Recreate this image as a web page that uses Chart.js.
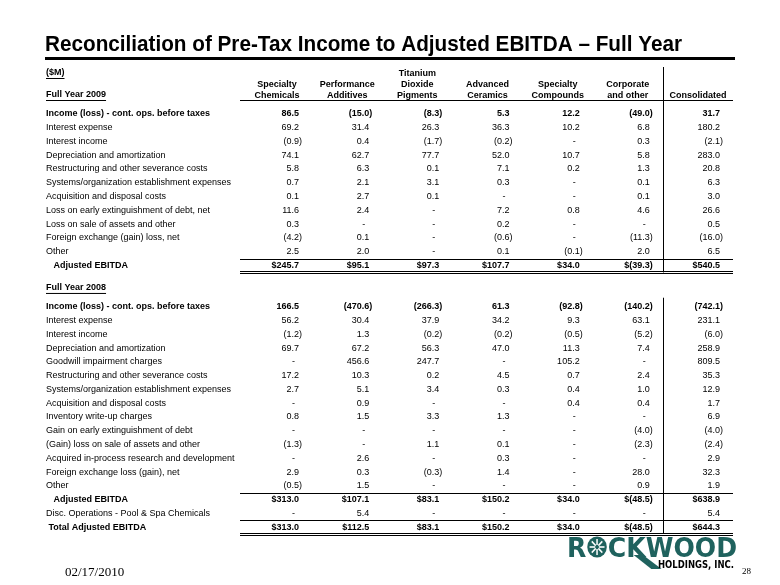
<!DOCTYPE html>
<html>
<head>
<meta charset="utf-8">
<script src="https://cdn.jsdelivr.net/npm/chart.js@4.4.1/dist/chart.umd.min.js"></script>
<style>
  html, body { margin: 0; padding: 0; background: #fff; }
</style>
</head>
<body>
<canvas id="reconChart" width="780" height="585"></canvas>
<script>
// Reconciliation table, full year 2009 / 2008 ($M)

const columns = [
  ['Specialty', 'Chemicals'],
  ['Performance', 'Additives'],
  ['Titanium', 'Dioxide', 'Pigments'],
  ['Advanced', 'Ceramics'],
  ['Specialty', 'Compounds'],
  ['Corporate', 'and other'],
  'Consolidated'
];

const rows2009 = [
  'Income (loss) - cont. ops. before taxes',
  'Interest expense',
  'Interest income',
  'Depreciation and amortization',
  'Restructuring and other severance costs',
  'Systems/organization establishment expenses',
  'Acquisition and disposal costs',
  'Loss on early extinguishment of debt, net',
  'Loss on sale of assets and other',
  'Foreign exchange (gain) loss, net',
  'Other',
  'Adjusted EBITDA'
];

const rows2008 = [
  'Income (loss) - cont. ops. before taxes',
  'Interest expense',
  'Interest income',
  'Depreciation and amortization',
  'Goodwill impairment charges',
  'Restructuring and other severance costs',
  'Systems/organization establishment expenses',
  'Acquisition and disposal costs',
  'Inventory write-up charges',
  'Gain on early extinguishment of debt',
  '(Gain) loss on sale of assets and other',
  'Acquired in-process research and development',
  'Foreign exchange loss (gain), net',
  'Other',
  'Adjusted EBITDA',
  'Disc. Operations - Pool & Spa Chemicals',
  'Total Adjusted EBITDA'
];

// null = "-"
const specChem09 = [86.5, 69.2, -0.9, 74.1, 5.8, 0.7, 0.1, 11.6, 0.3, -4.2, 2.5, 245.7];
const perfAdd09  = [-15.0, 31.4, 0.4, 62.7, 6.3, 2.1, 2.7, 2.4, null, 0.1, 2.0, 95.1];
const tio2_09    = [-8.3, 26.3, -1.7, 77.7, 0.1, 3.1, 0.1, null, null, null, null, 97.3];
const advCer09   = [5.3, 36.3, -0.2, 52.0, 7.1, 0.3, null, 7.2, 0.2, -0.6, 0.1, 107.7];
const specComp09 = [12.2, 10.2, null, 10.7, 0.2, null, null, 0.8, null, null, -0.1, 34.0];
const corp09     = [-49.0, 6.8, 0.3, 5.8, 1.3, 0.1, 0.1, 4.6, null, -11.3, 2.0, -39.3];
const consol09   = [31.7, 180.2, -2.1, 283.0, 20.8, 6.3, 3.0, 26.6, 0.5, -16.0, 6.5, 540.5];

const specChem08 = [166.5, 56.2, -1.2, 69.7, null, 17.2, 2.7, null, 0.8, null, -1.3, null, 2.9, -0.5, 313.0, null, 313.0];
const perfAdd08  = [-470.6, 30.4, 1.3, 67.2, 456.6, 10.3, 5.1, 0.9, 1.5, null, null, 2.6, 0.3, 1.5, 107.1, 5.4, 112.5];
const tio2_08    = [-266.3, 37.9, -0.2, 56.3, 247.7, 0.2, 3.4, null, 3.3, null, 1.1, null, -0.3, null, 83.1, null, 83.1];
const advCer08   = [61.3, 34.2, -0.2, 47.0, null, 4.5, 0.3, null, 1.3, null, 0.1, 0.3, 1.4, null, 150.2, null, 150.2];
const specComp08 = [-92.8, 9.3, -0.5, 11.3, 105.2, 0.7, 0.4, 0.4, null, null, null, null, null, null, 34.0, null, 34.0];
const corp08     = [-140.2, 63.1, -5.2, 7.4, null, 2.4, 1.0, 0.4, null, -4.0, -2.3, null, 28.0, 0.9, -48.5, null, -48.5];
const consol08   = [-742.1, 231.1, -6.0, 258.9, 809.5, 35.3, 12.9, 1.7, 6.9, -4.0, -2.4, 2.9, 32.3, 1.9, 638.9, 5.4, 644.3];

const cols09 = [specChem09, perfAdd09, tio2_09, advCer09, specComp09, corp09, consol09];
const cols08 = [specChem08, perfAdd08, tio2_08, advCer08, specComp08, corp08, consol08];

const FONT = '"Liberation Sans", Arial, sans-serif';
const start08 = rows2009.length + 2;
const allRows = [...rows2009, '', 'Full Year 2008', ...rows2008];

const isTotal = name => name.endsWith('Adjusted EBITDA');
const isBold = name => name.startsWith('Income') || isTotal(name);

function fmt(v, dollar) {
  const s = Math.abs(v).toFixed(1);
  return (dollar ? '$' : '') + (v < 0 ? '(' + s + ')' : s);
}

function underlined(ctx, text, x, y) {
  ctx.textAlign = 'left';
  ctx.textBaseline = 'middle';
  ctx.fillText(text, x, y);
  ctx.fillRect(x, y + 5, ctx.measureText(text).width, 1);
}

function drawLogo(ctx) {
  const teal = '#1f625e';
  const left = 567, base = 557, target = 170;
  ctx.save();
  ctx.fillStyle = teal;
  ctx.font = 'bold 27px "DejaVu Sans", sans-serif';
  ctx.textBaseline = 'alphabetic';
  ctx.textAlign = 'left';
  const wR = ctx.measureText('R').width;
  const wO = ctx.measureText('O').width;
  const wRest = ctx.measureText('CKWOOD').width;
  const sx = target / (wR + wO + wRest);
  ctx.translate(left, base);
  ctx.scale(sx, 1);
  ctx.fillText('R', 0, 0);
  // starburst O
  const cx = wR + wO / 2, cy = -10, r = 10.5;
  ctx.beginPath();
  ctx.arc(cx, cy, r, 0, Math.PI * 2);
  ctx.fill();
  ctx.strokeStyle = '#fff';
  ctx.lineWidth = 1.6;
  for (let i = 0; i < 8; i++) {
    const a = i * Math.PI / 4;
    ctx.beginPath();
    ctx.moveTo(cx + Math.cos(a) * 2, cy + Math.sin(a) * 2);
    ctx.lineTo(cx + Math.cos(a) * 8, cy + Math.sin(a) * 8);
    ctx.stroke();
  }
  const xC = wR + wO;
  ctx.fillText('CKWOOD', xC, 0);
  // K leg running down under the name
  const xK = xC + ctx.measureText('C').width;
  ctx.beginPath();
  ctx.moveTo(xK + 8, -2);
  ctx.lineTo(xK + 18, -2);
  ctx.lineTo(xK + 38, 12);
  ctx.lineTo(xK + 27, 12);
  ctx.closePath();
  ctx.fill();
  ctx.restore();

  ctx.save();
  ctx.fillStyle = '#000';
  ctx.font = 'bold 10px "DejaVu Sans", sans-serif';
  const h = 'HOLDINGS, INC.';
  const hw = ctx.measureText(h).width;
  ctx.translate(658, 568);
  ctx.scale(76 / hw, 1);
  ctx.textBaseline = 'alphabetic';
  ctx.fillText(h, 0, 0);
  ctx.restore();
}

const tablePlugin = {
  id: 'tableCells',
  afterDraw(chart) {
    const { ctx, chartArea: area, scales: { x, y } } = chart;
    ctx.save();
    ctx.fillStyle = '#000';

    // title and rule
    const title = 'Reconciliation of Pre-Tax Income to Adjusted EBITDA \u2013 Full Year';
    ctx.font = 'bold 22px ' + FONT;
    const tw = ctx.measureText(title).width;
    ctx.save();
    ctx.translate(45, 51);
    ctx.scale(637 / tw, 1);
    ctx.textBaseline = 'alphabetic';
    ctx.textAlign = 'left';
    ctx.fillText(title, 0, 0);
    ctx.restore();
    ctx.fillRect(45, 57, 690, 3);

    // corner labels
    ctx.font = 'bold 9px ' + FONT;
    underlined(ctx, '($M)', 46, 73);
    underlined(ctx, 'Full Year 2009', 46, 95);
    underlined(ctx, 'Full Year 2008', 46, y.getPixelForValue(start08 - 1) - 5);

    // header underline
    ctx.fillRect(area.left - 2, 100, area.right - area.left + 2, 1);

    // cells
    ctx.textBaseline = 'middle';
    const block = (cols, names, first) => {
      cols.forEach((col, c) => {
        const right = x.getPixelForValue(c) + 25;
        col.forEach((v, r) => {
          const name = names[r];
          ctx.font = (isBold(name) ? 'bold ' : '') + '9px ' + FONT;
          const parenW = ctx.measureText(')').width;
          const yy = y.getPixelForValue(first + r);
          ctx.textAlign = 'right';
          if (v === null) {
            ctx.fillText('-', right - 7, yy);
          } else {
            ctx.fillText(fmt(v, isTotal(name)), v < 0 ? right : right - parenW, yy);
          }
        });
      });
    };
    block(cols09, rows2009, 0);
    block(cols08, rows2008, start08);

    // rules
    const hline = (yy) => ctx.fillRect(area.left - 2, Math.round(yy), area.right - area.left + 2, 1);
    const mid = (a, b) => (y.getPixelForValue(a) + y.getPixelForValue(b)) / 2;
    const last09 = rows2009.length - 1;
    hline(mid(last09 - 1, last09));
    hline(y.getPixelForValue(last09) + 6);
    hline(y.getPixelForValue(last09) + 8);
    const adj08 = start08 + rows2008.length - 3;
    hline(mid(adj08 - 1, adj08));
    hline(mid(adj08 + 1, adj08 + 2));
    hline(y.getPixelForValue(adj08 + 2) + 6);
    hline(y.getPixelForValue(adj08 + 2) + 8);

    // vertical divider before Consolidated
    const vx = Math.round((x.getPixelForValue(5) + x.getPixelForValue(6)) / 2);
    ctx.fillRect(vx, 67, 1, y.getPixelForValue(last09) + 7 - 67);
    const top08 = y.getPixelForValue(start08) - 9;
    ctx.fillRect(vx, top08, 1, y.getPixelForValue(adj08 + 2) + 6 - top08);

    // footer
    ctx.font = '13px "Liberation Serif", serif';
    ctx.textAlign = 'left';
    ctx.textBaseline = 'alphabetic';
    ctx.fillText('02/17/2010', 65, 576);
    ctx.font = '9px "Liberation Serif", serif';
    ctx.fillText('28', 742, 574);
    drawLogo(ctx);
    ctx.restore();
  }
};

const ctx = document.getElementById('reconChart').getContext('2d');

new Chart(ctx, {
  type: 'scatter',
  data: { labels: columns, datasets: [] },
  options: {
    responsive: false,
    animation: false,
    events: [],
    layout: { padding: { left: 46, right: 47, top: 60, bottom: 51 } },
    plugins: { legend: { display: false }, tooltip: { enabled: false } },
    scales: {
      x: {
        type: 'category',
        labels: columns,
        position: 'top',
        offset: true,
        grid: { display: false, drawTicks: false },
        border: { display: false },
        ticks: {
          autoSkip: false,
          maxRotation: 0,
          padding: 6,
          color: '#000',
          font: { family: FONT, size: 9, weight: 'bold', lineHeight: 1.22 }
        },
        afterFit(scale) { scale.height = 47; }
      },
      y: {
        type: 'category',
        labels: allRows,
        offset: true,
        grid: { display: false, drawTicks: false },
        border: { display: false },
        ticks: {
          autoSkip: false,
          crossAlign: 'far',
          padding: 0,
          color: '#000',
          font: (c) => ({ family: FONT, size: 9, weight: isBold(allRows[c.index] || '') ? 'bold' : 'normal' }),
          callback: function (value) {
            const name = this.getLabelForValue(value);
            if (name === 'Full Year 2008') return '';
            if (name === 'Adjusted EBITDA') return '   ' + name;
            if (name === 'Total Adjusted EBITDA') return ' ' + name;
            return name;
          }
        },
        afterFit(scale) { scale.width = 196; }
      }
    }
  },
  plugins: [tablePlugin]
});
</script>
</body>
</html>
